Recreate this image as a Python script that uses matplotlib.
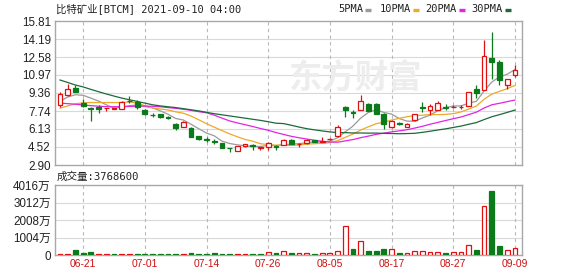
import matplotlib
matplotlib.use("Agg")
import matplotlib.pyplot as plt
from matplotlib.lines import Line2D
import numpy as np
import pandas as pd

# ---------------- data ----------------
dates = ["06-16", "06-17", "06-18", "06-21", "06-22", "06-23", "06-24", "06-25", "06-28", "06-29",
         "06-30", "07-01", "07-02", "07-06", "07-07", "07-08", "07-09", "07-12", "07-13", "07-14",
         "07-15", "07-16", "07-19", "07-20", "07-21", "07-22", "07-23", "07-26", "07-27", "07-28",
         "07-29", "07-30", "08-02", "08-03", "08-04", "08-05", "08-06", "08-09", "08-10", "08-11",
         "08-12", "08-13", "08-16", "08-17", "08-18", "08-19", "08-20", "08-23", "08-24", "08-25",
         "08-26", "08-27", "08-30", "08-31", "09-01", "09-02", "09-03", "09-07", "09-08", "09-09"]

opens = [8.28, 9.15, 9.80, 8.45, 8.05, 8.10, 8.00, 7.96, 7.90, 8.68,
         8.57, 7.83, 7.42, 7.47, 7.18, 6.60, 6.35, 6.20, 5.50, 5.22,
         5.02, 4.84, 4.42, 4.18, 4.60, 4.70, 4.43, 4.55, 4.58, 4.70,
         5.14, 4.79, 4.85, 5.10, 4.98, 5.20, 5.50, 8.12, 7.62, 7.85,
         8.40, 8.40, 7.50, 6.30, 6.68, 6.35, 6.93, 8.10, 7.85, 7.85,
         8.10, 8.08, 8.10, 8.20, 9.70, 9.65, 12.46, 12.15, 10.10, 11.00]
highs = [9.40, 10.20, 10.05, 8.80, 8.10, 8.28, 8.04, 8.02, 8.60, 9.10,
         8.70, 7.88, 7.55, 7.50, 7.25, 6.65, 6.82, 6.33, 5.52, 5.45,
         5.22, 4.88, 4.45, 4.62, 4.80, 4.75, 4.48, 4.98, 4.70, 5.20,
         5.20, 4.84, 5.20, 5.15, 5.43, 5.35, 6.48, 8.20, 7.80, 9.15,
         8.45, 8.45, 7.55, 6.90, 6.75, 6.70, 7.50, 8.57, 8.37, 8.66,
         8.40, 8.25, 8.25, 9.45, 10.07, 14.10, 14.78, 12.30, 10.65, 11.86]
lows = [8.10, 9.12, 9.40, 8.10, 6.80, 7.58, 7.77, 7.93, 7.88, 8.45,
        7.90, 7.40, 7.20, 7.10, 7.00, 6.00, 6.30, 5.40, 5.15, 4.95,
        4.80, 4.38, 4.08, 4.15, 4.55, 4.25, 4.25, 4.25, 4.25, 4.65,
        4.75, 4.50, 4.82, 4.98, 4.95, 5.10, 5.38, 7.17, 7.15, 7.83,
        7.75, 7.45, 6.10, 6.25, 6.48, 6.30, 6.80, 7.68, 7.40, 7.83,
        7.85, 8.00, 7.95, 8.15, 8.95, 9.60, 10.60, 10.05, 9.70, 10.75]
closes = [9.24, 9.70, 9.47, 8.15, 7.92, 7.92, 8.03, 7.99, 8.55, 8.62,
          8.12, 7.45, 7.38, 7.20, 7.12, 6.20, 6.78, 5.45, 5.20, 5.18,
          4.98, 4.40, 4.38, 4.60, 4.75, 4.62, 4.47, 4.85, 4.52, 5.14,
          4.78, 4.82, 5.14, 5.00, 5.03, 5.25, 6.28, 7.83, 7.57, 8.60,
          7.78, 7.50, 6.60, 6.85, 6.60, 6.62, 7.45, 8.05, 8.20, 8.48,
          8.05, 8.12, 8.14, 9.40, 9.35, 12.67, 12.10, 10.50, 10.58, 11.40]
# volume in 万 shares
volumes = [60, 70, 270, 135, 150, 40, 35, 30, 40, 35,
           30, 35, 30, 30, 30, 30, 35, 100, 40, 30,
           100, 40, 35, 40, 40, 35, 40, 170, 115, 250,
           100, 100, 100, 50, 100, 100, 250, 1665, 345, 800,
           250, 250, 345, 345, 100, 100, 230, 250, 190, 150,
           100, 150, 150, 555, 290, 2810, 3674, 517, 268, 376.86]

# moving-average values at the start of the window (read from the chart,
# where the window reaches back before the first visible day)
ma5_head = [8.60, 9.00, 9.20, 9.15]
ma10_head = [8.00, 8.20, 8.38, 8.48, 8.50, 8.50, 8.50, 8.50, 8.50]
ma20_head = [8.45, 8.40, 8.35, 8.28, 8.22, 8.17, 8.13, 8.12, 8.13, 8.15,
             8.17, 8.18, 8.17, 8.12, 8.05, 7.98, 7.90, 7.80, 7.68]
ma30_head = [10.52, 10.30, 10.07, 9.90, 9.68, 9.47, 9.27, 9.08, 8.90, 8.75,
             8.60, 8.45, 8.30, 8.20, 8.12, 8.05, 7.95, 7.85, 7.75, 7.62,
             7.50, 7.40, 7.30, 7.20, 7.10, 7.00, 6.90, 6.78, 6.65]

price_ticks = [2.90, 4.52, 6.13, 7.74, 9.36, 10.97, 12.58, 14.19, 15.81]
price_labels = ["2.90", "4.52", "6.13", "7.74", "9.36", "10.97", "12.58", "14.19", "15.81"]
vol_ticks = [0, 1004, 2008, 3012, 4016]
vol_labels = ["0", "1004万", "2008万", "3012万", "4016万"]
label_dates = ["06-21", "07-01", "07-14", "07-26", "08-05", "08-17", "08-27", "09-09"]

title = "比特矿业[BTCM] 2021-09-10 04:00"
vol_title = "成交量:3768600"
legend_names = ["5PMA", "10PMA", "20PMA", "30PMA"]

# ---------------- styles ----------------
RED = "#e01010"
GREEN = "#0b7a1b"
MA_COLORS = ["#9a9a9a", "#eda92a", "#e324e3", "#1b6a3a"]
SPINE = "#a8a8a8"
GRID = "#d9d9d9"
VGRID = "#b8b8b8"

W, H = 578, 276
fig = plt.figure(figsize=(W / 100, H / 100), dpi=100)
fig.patch.set_facecolor("white")

def fx(px):
    return px / W

def fy(py):
    return 1 - py / H

L, R = 55, 522
ax = fig.add_axes([fx(L), fy(165), fx(R - L), (165 - 21) / H])
axv = fig.add_axes([fx(L), fy(255), fx(R - L), (255 - 185) / H])

n = len(closes)
x = np.arange(n)
o = np.array(opens); c = np.array(closes); h = np.array(highs); lo = np.array(lows)
v = np.array(volumes)
up = c >= o
prev_close = np.r_[c[0] - 1, c[:-1]]
vol_up = c >= prev_close

# moving averages
cs = pd.Series(c)
mas = []
for win, head in zip([5, 10, 20, 30], [ma5_head, ma10_head, ma20_head, ma30_head]):
    m = cs.rolling(win).mean().to_numpy()
    m[:win - 1] = head
    mas.append(m)

label_idx = [dates.index(d) for d in label_dates]
xlim = (-0.65, 59.92)

# ---------------- price panel ----------------
ax.set_xlim(*xlim)
ax.set_ylim(price_ticks[0], price_ticks[-1])
ax.set_yticks(price_ticks)
ax.set_yticklabels(price_labels)
ax.set_xticks([])
for t in price_ticks[1:-1]:
    ax.axhline(t, color=GRID, lw=0.8, zorder=0)
for i in label_idx:
    ax.axvline(i, color=VGRID, lw=0.8, ls=(0, (3, 3)), zorder=0)

ax.text(0.5, 0.60, "东方财富", transform=ax.transAxes, ha="left", va="center",
        fontsize=24, fontweight="bold", color="#ededed",
        family=["Noto Sans CJK SC"], zorder=0.5)

for m, col in zip(mas, MA_COLORS):
    ax.plot(x, m, color=col, lw=0.9, zorder=2)

ax.vlines(x[up], lo[up], h[up], color=RED, lw=0.9, zorder=3)
ax.vlines(x[~up], lo[~up], h[~up], color=GREEN, lw=0.9, zorder=3)
body_h = np.maximum(np.abs(c - o), 0.03)
body_b = np.minimum(o, c)
ax.bar(x[up], body_h[up], bottom=body_b[up], width=0.62, facecolor="white",
       edgecolor=RED, lw=0.9, zorder=4)
ax.bar(x[~up], body_h[~up], bottom=body_b[~up], width=0.62, facecolor=GREEN,
       edgecolor=GREEN, lw=0.9, zorder=4)

# ---------------- volume panel ----------------
axv.set_xlim(*xlim)
axv.set_ylim(vol_ticks[0], vol_ticks[-1])
axv.set_yticks(vol_ticks)
axv.set_yticklabels(vol_labels)
axv.set_xticks(label_idx)
axv.set_xticklabels(label_dates)
for t in vol_ticks[1:-1]:
    axv.axhline(t, color=GRID, lw=0.8, zorder=0)
for i in label_idx:
    axv.axvline(i, color=VGRID, lw=0.8, ls=(0, (3, 3)), zorder=0)
axv.bar(x[vol_up], v[vol_up], width=0.62, facecolor="white", edgecolor=RED, lw=0.9, zorder=3)
axv.bar(x[~vol_up], v[~vol_up], width=0.62, facecolor=GREEN, edgecolor=GREEN, lw=0.9, zorder=3)

for a in (ax, axv):
    for s in a.spines.values():
        s.set_color(SPINE)
        s.set_linewidth(1.0)
    a.tick_params(axis="both", length=0, pad=3)
    for lab in a.get_yticklabels():
        lab.set_family(["Liberation Sans", "Noto Sans CJK SC"])
        lab.set_fontsize(8.4)
        lab.set_color("#222222")
for lab in axv.get_xticklabels():
    lab.set_family(["Liberation Sans"])
    lab.set_fontsize(7.4)
    lab.set_color("#d01010")
axv.tick_params(axis="x", pad=3)

# ---------------- texts ----------------
mono = ["DejaVu Sans Mono", "Noto Sans CJK SC"]
fig.text(fx(56), fy(9), title, ha="left", va="center", fontsize=7.5, family=mono, color="#222222")
fig.text(fx(57), fy(177), vol_title, ha="left", va="center", fontsize=7.6, family=mono, color="#222222")

leg_x = [338, 380, 425, 471]
dash_x = [365, 413, 459, 505]
for name, lx, dx, col in zip(legend_names, leg_x, dash_x, MA_COLORS):
    fig.text(fx(lx), fy(9), name, ha="left", va="center", fontsize=7.5, family=mono, color="#222222")
    fig.add_artist(Line2D([fx(dx), fx(dx + 6)], [fy(9.5), fy(9.5)], transform=fig.transFigure,
                          color=col, lw=2.4, solid_capstyle="butt"))

fig.savefig("out.png", dpi=100, facecolor="white")
